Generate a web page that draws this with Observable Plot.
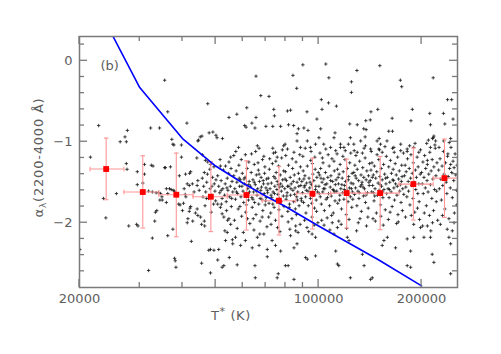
<!DOCTYPE html>
<html><head><meta charset="utf-8">
<script src="https://cdn.jsdelivr.net/npm/d3@7"></script>
<script src="https://cdn.jsdelivr.net/npm/@observablehq/plot@0.6"></script>
<style>html,body{margin:0;padding:0;background:#fff}svg{display:block}</style>
</head><body><div id="chart"></div>
<script>
// ---- data: each star as [log10 T*, alpha_lambda(2200-4000 A)] ----
const upperPts = [[4.550,-0.24],[4.559,-0.63],[4.509,-0.83],[4.535,-0.83],[4.615,-0.77],[4.676,-0.53],[4.659,-0.93],[4.680,-0.89],[4.691,-0.88],[4.700,-0.92],[4.738,-0.70],[4.761,-0.66],[4.790,-0.58],[4.817,-0.19],[4.831,-0.43],[4.855,-0.44],[4.817,-0.70],[4.784,-0.80],[4.788,-0.82],[4.805,-0.77],[4.814,-0.83],[4.846,-0.81],[4.866,-0.81],[4.869,-0.60],[4.871,-0.68],[4.909,-0.62],[4.918,-0.61],[4.925,-0.18],[4.936,-0.34],[4.954,-0.05],[4.912,-0.79],[4.927,-0.80],[4.941,-0.84],[4.957,-0.83],[5.021,-0.04],[5.030,-0.21],[5.112,-0.12],[5.096,-0.26],[5.096,-0.39],[5.179,-0.06],[5.239,-0.24],[5.243,-0.32],[5.335,-0.21],[5.377,-0.48],[5.389,-0.48],[5.008,-0.48],[5.029,-0.52],[5.052,-0.56],[5.010,-0.60],[4.966,-0.63],[4.995,-0.72],[5.153,-0.63],[5.173,-0.60],[5.151,-0.73],[5.138,-0.74],[5.113,-0.79],[5.132,-0.84],[5.139,-0.85],[5.215,-0.71],[5.274,-0.60],[5.270,-0.74],[5.325,-0.65],[5.365,-0.65],[5.327,-0.79],[5.369,-0.78],[5.393,-0.72],[5.048,-0.89],[5.205,-0.87],[5.216,-0.87],[5.337,-0.93],[5.352,-1.07],[5.335,-0.95],[5.333,-0.96],[5.378,-1.15],[5.386,-1.28],[5.396,-1.32],[5.136,-0.94],[5.177,-0.96],[5.181,-1.03],[5.091,-0.78],[5.093,-0.95],[5.087,-1.03],[4.969,-0.86],[4.889,-0.81],[4.937,-0.90],[4.821,-1.05],[4.826,-1.08],[4.874,-1.13],[4.879,-1.19],[4.898,-1.05],[4.902,-1.03],[4.937,-0.99],[4.947,-1.07],[4.967,-0.99],[4.976,-1.07],[4.991,-1.03],[5.001,-0.95],[5.006,-0.84],[5.015,-1.03],[5.035,-1.07],[5.045,-0.95],[5.050,-1.11],[5.064,-1.03],[5.074,-1.07],[5.103,-1.03],[5.113,-1.13],[5.123,-0.99],[5.137,-1.05],[5.152,-1.09],[5.171,-0.99],[5.176,-1.09],[5.186,-1.13],[5.200,-0.99],[5.220,-1.07],[5.240,-1.03],[5.259,-1.09],[5.278,-1.07],[5.293,-1.13],[5.318,-1.23],[5.342,-0.99],[5.327,-1.07]];

const leftPts = [[4.333,-1.19],[4.357,-0.80],[4.302,-2.33],[4.378,-1.94],[4.371,-1.70],[4.409,-1.64],[4.420,-1.00],[4.438,-1.00],[4.434,-0.94],[4.441,-0.86],[4.438,-1.27],[4.445,-2.04],[4.440,-1.34],[4.470,-1.37],[4.491,-1.28],[4.470,-1.53],[4.468,-2.02],[4.472,-2.04],[4.491,-1.40],[4.486,-1.51],[4.503,-2.59],[4.511,-1.29],[4.516,-1.30],[4.514,-2.19],[4.521,-1.98],[4.527,-1.85],[4.523,-1.87],[4.536,-1.72],[4.543,-1.72],[4.550,-1.32],[4.503,-1.61],[4.514,-1.62],[4.525,-1.63],[4.532,-1.63],[4.538,-1.64],[4.542,-1.68],[4.567,-1.31],[4.571,-0.97],[4.574,-1.03],[4.577,-1.04],[4.555,-1.58],[4.569,-1.59],[4.575,-1.60],[4.559,-2.16],[4.579,-2.44],[4.581,-2.47],[4.583,-2.55],[4.595,-1.78],[4.599,-1.04],[4.599,-1.19],[4.552,-1.32],[4.559,-1.64],[4.555,-1.75],[4.564,-1.58],[4.579,-1.61],[4.574,-2.08],[4.593,-1.42],[4.591,-1.77],[4.605,-1.76],[4.602,-1.85],[4.610,-1.65],[4.612,-1.68],[4.616,-2.00],[4.618,-1.95],[4.622,-1.86],[4.624,-1.82],[4.626,-1.80],[4.628,-2.23],[4.616,-1.52],[4.622,-1.54],[4.631,-1.52],[4.645,-1.54],[4.640,-1.88],[4.645,-1.83],[4.626,-1.37],[4.644,-1.20],[4.647,-0.99],[4.611,-1.40],[4.623,-1.39],[4.647,-1.48],[4.632,-1.98],[4.647,-1.91],[4.636,-1.62],[4.607,-1.58],[4.649,-0.98],[4.654,-0.94],[4.660,-1.16],[4.669,-1.23],[4.676,-1.25],[4.684,-1.28],[4.694,-1.31],[4.666,-1.38],[4.682,-1.34],[4.655,-1.93],[4.658,-2.02],[4.666,-1.98],[4.667,-2.04],[4.658,-2.50],[4.679,-2.34],[4.694,-2.34],[4.684,-2.62],[4.699,-1.73],[4.660,-1.45],[4.664,-1.55],[4.670,-1.62],[4.673,-1.50],[4.678,-1.70],[4.683,-1.58],[4.687,-1.66],[4.690,-1.44],[4.693,-1.77],[4.697,-1.61],[4.662,-1.68],[4.668,-1.79],[4.686,-1.87],[4.695,-1.52],[4.651,-1.60],[4.675,-1.40],[4.703,-0.95],[4.719,-0.96],[4.713,-1.30],[4.743,-1.19],[4.752,-1.17],[4.705,-2.46],[4.718,-2.55],[4.723,-2.53],[4.739,-2.43],[4.748,-2.21],[4.749,-2.26],[4.743,-2.02],[4.738,-1.95],[4.723,-1.93],[4.718,-1.89],[4.731,-1.85],[4.713,-1.81],[4.705,-1.77],[4.705,-1.42],[4.708,-1.55],[4.711,-1.63],[4.715,-1.48],[4.718,-1.70],[4.720,-1.58],[4.722,-1.35],[4.725,-1.66],[4.727,-1.52],[4.730,-1.74],[4.733,-1.45],[4.735,-1.60],[4.737,-1.39],[4.740,-1.68],[4.742,-1.55],[4.745,-1.80],[4.747,-1.49],[4.749,-1.62],[4.716,-1.77],[4.728,-1.30],[4.738,-1.25],[4.712,-1.22],[4.744,-1.33],[4.726,-2.10],[4.734,-1.97]];

const lowerPts = [[4.684,-2.33],[4.708,-2.33],[4.762,-2.52],[4.815,-2.68],[4.814,-2.53],[4.850,-2.42],[4.882,-2.63],[4.879,-2.68],[4.903,-2.53],[4.911,-2.53],[4.928,-2.70],[4.928,-2.31],[4.937,-2.26],[4.962,-2.43],[4.967,-2.45],[4.991,-2.41],[4.806,-2.31],[4.826,-2.28],[4.786,-2.22],[4.772,-2.28],[4.728,-2.22],[4.733,-2.12],[4.850,-2.33],[4.864,-2.22],[4.874,-2.28],[4.889,-2.35],[4.757,-2.18],[4.821,-2.18],[4.840,-2.14],[4.918,-2.16],[4.933,-2.10],[4.981,-2.14],[4.991,-2.18],[5.045,-2.14],[5.055,-2.06],[5.050,-2.35],[5.055,-2.51],[5.059,-2.53],[5.084,-2.18],[5.089,-2.22],[5.093,-2.68],[5.128,-2.39],[5.133,-2.53],[5.152,-2.70],[5.157,-2.68],[5.186,-2.28],[5.191,-2.22],[5.201,-2.18],[5.225,-2.31],[5.259,-2.53],[5.269,-2.55],[5.259,-2.20],[5.278,-2.18],[5.308,-2.18],[5.327,-2.18],[5.332,-2.39],[5.337,-2.49],[5.381,-2.18],[5.386,-2.26],[5.391,-2.10],[5.386,-2.63],[5.269,-2.35],[5.298,-2.06],[5.318,-2.04]];

const bandPts = [
[4.752,-1.42],[4.755,-1.58],[4.757,-1.71],[4.759,-1.36],[4.761,-1.50],[4.763,-1.64],[4.765,-1.83],[4.767,-1.29],[4.769,-1.55],[4.771,-1.47],[4.773,-1.68],[4.775,-1.92],[4.777,-1.39],[4.779,-1.61],[4.781,-1.75],[4.783,-1.52],[4.785,-1.44],[4.787,-1.87],[4.789,-1.66],[4.791,-1.33],[4.793,-1.58],[4.795,-1.72],[4.797,-1.49],[4.799,-2.01],[4.754,-1.97],[4.762,-2.07],[4.774,-1.22],[4.786,-1.16],[4.796,-1.25],[4.758,-1.12],[4.780,-2.12],[4.792,-1.95],[4.770,-1.80],[4.798,-1.62],[4.766,-1.07],
[4.801,-1.55],[4.803,-1.38],[4.805,-1.69],[4.806,-1.81],[4.808,-1.47],[4.810,-1.62],[4.812,-1.28],[4.813,-1.75],[4.815,-1.53],[4.817,-1.90],[4.818,-1.41],[4.820,-1.66],[4.822,-1.58],[4.824,-1.35],[4.825,-1.77],[4.827,-1.49],[4.829,-1.98],[4.831,-1.60],[4.832,-1.44],[4.834,-1.71],[4.836,-1.22],[4.837,-1.85],[4.839,-1.52],[4.841,-1.64],[4.843,-1.31],[4.844,-1.78],[4.846,-1.57],[4.848,-1.46],[4.849,-2.05],[4.804,-1.15],[4.816,-1.12],[4.828,-2.14],[4.840,-1.18],[4.809,-1.95],[4.835,-1.93],[4.823,-1.26],[4.847,-1.69],[4.811,-2.09],[4.842,-1.39],
[4.851,-1.63],[4.853,-1.45],[4.855,-1.76],[4.856,-1.34],[4.858,-1.58],[4.860,-1.88],[4.862,-1.51],[4.863,-1.69],[4.865,-1.27],[4.867,-1.62],[4.869,-1.43],[4.870,-1.81],[4.872,-1.55],[4.874,-1.97],[4.876,-1.38],[4.877,-1.72],[4.879,-1.49],[4.881,-1.65],[4.883,-1.30],[4.884,-1.84],[4.886,-1.56],[4.888,-1.41],[4.890,-1.74],[4.891,-1.61],[4.893,-1.92],[4.895,-1.47],[4.897,-1.67],[4.898,-1.36],[4.857,-1.21],[4.868,-1.14],[4.880,-2.06],[4.892,-1.20],[4.861,-2.02],[4.875,-1.24],[4.887,-2.11],[4.899,-1.80],[4.854,-1.93],[4.882,-1.53],[4.866,-1.08],[4.894,-1.10],
[4.901,-1.58],[4.903,-1.37],[4.905,-1.71],[4.906,-1.48],[4.908,-1.63],[4.910,-1.86],[4.912,-1.29],[4.913,-1.55],[4.915,-1.77],[4.917,-1.44],[4.918,-1.66],[4.920,-1.52],[4.922,-1.95],[4.924,-1.33],[4.925,-1.60],[4.927,-1.74],[4.929,-1.41],[4.931,-1.57],[4.932,-1.83],[4.934,-1.25],[4.936,-1.68],[4.937,-1.50],[4.939,-1.62],[4.941,-1.39],[4.943,-1.79],[4.944,-1.46],[4.946,-2.02],[4.948,-1.54],[4.949,-1.70],[4.904,-1.17],[4.916,-2.08],[4.928,-1.13],[4.940,-2.12],[4.911,-1.99],[4.923,-1.21],[4.935,-1.90],[4.947,-1.31],[4.909,-1.09],[4.933,-2.04],[4.945,-1.16],
[4.951,-1.49],[4.953,-1.63],[4.955,-1.36],[4.956,-1.75],[4.958,-1.56],[4.960,-1.42],[4.962,-1.68],[4.963,-1.88],[4.965,-1.51],[4.967,-1.30],[4.969,-1.61],[4.970,-1.79],[4.972,-1.45],[4.974,-1.57],[4.976,-1.70],[4.977,-1.23],[4.979,-1.53],[4.981,-1.93],[4.983,-1.40],[4.984,-1.65],[4.986,-1.48],[4.988,-1.82],[4.990,-1.34],[4.991,-1.59],[4.993,-1.72],[4.995,-1.44],[4.997,-1.62],[4.998,-2.00],[4.954,-1.18],[4.966,-2.06],[4.978,-1.12],[4.989,-1.19],[4.959,-1.97],[4.971,-2.11],[4.982,-1.27],[4.994,-1.86],[4.961,-1.08],[4.987,-2.03],[4.999,-1.38],
[5.001,-1.55],[5.003,-1.41],[5.005,-1.68],[5.006,-1.33],[5.008,-1.77],[5.010,-1.50],[5.012,-1.62],[5.013,-1.26],[5.015,-1.46],[5.017,-1.85],[5.018,-1.58],[5.020,-1.38],[5.022,-1.71],[5.024,-1.52],[5.025,-1.94],[5.027,-1.44],[5.029,-1.64],[5.031,-1.30],[5.032,-1.79],[5.034,-1.56],[5.036,-1.42],[5.037,-1.67],[5.039,-1.21],[5.041,-1.49],[5.043,-1.88],[5.044,-1.60],[5.046,-1.36],[5.048,-1.73],[5.049,-1.53],[5.004,-1.14],[5.016,-2.03],[5.028,-1.16],[5.040,-2.00],[5.009,-1.97],[5.021,-1.09],[5.033,-2.09],[5.045,-1.24],[5.011,-1.20],[5.038,-1.91],
[5.051,-1.47],[5.053,-1.61],[5.055,-1.34],[5.056,-1.76],[5.058,-1.52],[5.060,-1.40],[5.062,-1.66],[5.063,-1.28],[5.065,-1.58],[5.067,-1.83],[5.069,-1.45],[5.070,-1.63],[5.072,-1.37],[5.074,-1.71],[5.076,-1.54],[5.077,-1.22],[5.079,-1.49],[5.081,-1.90],[5.083,-1.60],[5.084,-1.33],[5.086,-1.74],[5.088,-1.43],[5.090,-1.57],[5.091,-1.26],[5.093,-1.68],[5.095,-1.51],[5.097,-1.81],[5.098,-1.39],[5.054,-1.15],[5.066,-2.02],[5.078,-1.11],[5.089,-1.96],[5.059,-1.98],[5.071,-1.18],[5.082,-2.07],[5.094,-1.14],[5.064,-1.07],[5.099,-1.62],
[5.101,-1.52],[5.103,-1.38],[5.105,-1.65],[5.106,-1.29],[5.108,-1.57],[5.110,-1.45],[5.112,-1.79],[5.113,-1.34],[5.115,-1.61],[5.117,-1.48],[5.118,-1.70],[5.120,-1.24],[5.122,-1.55],[5.124,-1.41],[5.125,-1.86],[5.127,-1.50],[5.129,-1.32],[5.131,-1.67],[5.132,-1.44],[5.134,-1.58],[5.136,-1.20],[5.137,-1.75],[5.139,-1.47],[5.141,-1.36],[5.143,-1.63],[5.144,-1.93],[5.146,-1.42],[5.148,-1.54],[5.149,-1.27],[5.104,-1.11],[5.116,-2.00],[5.128,-1.14],[5.140,-2.04],[5.109,-1.17],[5.121,-1.95],[5.133,-1.08],[5.145,-1.82],[5.111,-2.10],
[5.151,-1.48],[5.153,-1.35],[5.155,-1.62],[5.156,-1.26],[5.158,-1.54],[5.160,-1.41],[5.162,-1.73],[5.163,-1.30],[5.165,-1.58],[5.167,-1.45],[5.169,-1.88],[5.170,-1.37],[5.172,-1.66],[5.174,-1.51],[5.176,-1.22],[5.177,-1.60],[5.179,-1.43],[5.181,-1.78],[5.183,-1.33],[5.184,-1.55],[5.186,-1.47],[5.188,-1.69],[5.190,-1.28],[5.191,-1.59],[5.193,-1.40],[5.195,-1.84],[5.197,-1.52],[5.198,-1.18],[5.154,-1.12],[5.166,-1.98],[5.178,-1.10],[5.189,-2.03],[5.159,-1.95],[5.171,-1.16],[5.182,-1.92],[5.194,-1.06],[5.199,-1.64],
[5.201,-1.44],[5.203,-1.58],[5.205,-1.31],[5.206,-1.69],[5.208,-1.50],[5.210,-1.23],[5.212,-1.62],[5.213,-1.39],[5.215,-1.80],[5.217,-1.47],[5.218,-1.34],[5.220,-1.57],[5.222,-1.72],[5.224,-1.27],[5.225,-1.52],[5.227,-1.41],[5.229,-1.66],[5.231,-1.19],[5.232,-1.90],[5.234,-1.46],[5.236,-1.36],[5.237,-1.61],[5.239,-1.53],[5.241,-1.75],[5.243,-1.29],[5.244,-1.43],[5.246,-1.58],[5.248,-1.14],[5.204,-1.96],[5.216,-1.08],[5.228,-2.01],[5.240,-1.11],[5.209,-1.87],[5.221,-1.13],[5.233,-1.99],[5.245,-1.85],[5.249,-1.65],
[5.251,-1.42],[5.253,-1.29],[5.255,-1.56],[5.256,-1.37],[5.258,-1.68],[5.260,-1.21],[5.262,-1.49],[5.263,-1.61],[5.265,-1.33],[5.267,-1.78],[5.269,-1.45],[5.270,-1.16],[5.272,-1.54],[5.274,-1.39],[5.276,-1.70],[5.277,-1.26],[5.279,-1.50],[5.281,-1.87],[5.283,-1.35],[5.284,-1.59],[5.286,-1.44],[5.288,-1.19],[5.290,-1.64],[5.291,-1.31],[5.293,-1.52],[5.295,-1.96],[5.297,-1.40],[5.298,-1.10],[5.254,-1.93],[5.266,-1.05],[5.278,-2.02],[5.289,-1.82],[5.259,-1.12],[5.271,-1.91],[5.282,-1.02],[5.294,-1.74],
[5.301,-1.38],[5.303,-1.52],[5.305,-1.25],[5.306,-1.64],[5.308,-1.44],[5.310,-1.17],[5.312,-1.57],[5.313,-1.33],[5.315,-1.79],[5.317,-1.48],[5.318,-1.28],[5.320,-1.62],[5.322,-1.40],[5.324,-1.91],[5.325,-1.13],[5.327,-1.53],[5.329,-1.36],[5.331,-1.70],[5.332,-1.22],[5.334,-1.46],[5.336,-1.85],[5.337,-1.31],[5.339,-1.59],[5.341,-1.08],[5.343,-1.42],[5.344,-1.74],[5.346,-1.26],[5.348,-1.97],[5.304,-2.04],[5.316,-1.02],[5.328,-2.10],[5.340,-1.04],[5.309,-1.88],[5.321,-0.98],[5.333,-2.00],[5.345,-1.61],
[5.351,-1.35],[5.353,-1.58],[5.355,-1.21],[5.357,-1.46],[5.359,-1.72],[5.361,-1.30],[5.363,-1.54],[5.365,-1.12],[5.367,-1.40],[5.369,-1.83],[5.371,-1.26],[5.373,-1.50],[5.375,-1.64],[5.377,-1.18],[5.379,-1.43],[5.381,-1.95],[5.383,-1.33],[5.385,-1.57],[5.387,-1.07],[5.389,-1.38],[5.391,-1.69],[5.393,-1.24],[5.395,-1.48],[5.397,-1.88],[5.399,-1.15],[5.401,-1.41],[5.403,-1.60],[5.405,-1.29],[5.356,-2.02],[5.366,-0.99],[5.376,-2.08],[5.386,-0.96],[5.396,-2.00],[5.362,-1.91],[5.382,-1.01],[5.404,-1.78]];

// extra stars in the crowded core of the distribution
const corePts = [[4.782,-1.46],[4.796,-1.53],[4.808,-1.71],[4.789,-1.78],[4.819,-1.61],[4.826,-1.40],[4.833,-1.56],[4.845,-1.73],[4.838,-1.48],[4.852,-1.52],[4.861,-1.66],[4.873,-1.45],[4.878,-1.59],[4.866,-1.77],[4.885,-1.70],[4.894,-1.55],[4.902,-1.46],[4.907,-1.67],[4.919,-1.58],[4.926,-1.49],[4.914,-1.81],[4.930,-1.65],[4.942,-1.55],[4.950,-1.73],[4.957,-1.46],[4.964,-1.60],[4.975,-1.50],[4.980,-1.76],[4.992,-1.55],[5.002,-1.64],[5.007,-1.45],[5.019,-1.53],[5.026,-1.69],[5.035,-1.48],[5.042,-1.59],[5.057,-1.44],[5.061,-1.72],[5.068,-1.53],[5.080,-1.64],[5.087,-1.47],[5.096,-1.58],[5.107,-1.42],[5.119,-1.63],[5.126,-1.53],[5.138,-1.66],[5.147,-1.50],[5.157,-1.44],[5.164,-1.67],[5.180,-1.53],[5.187,-1.62],[5.196,-1.45],[5.207,-1.59],[5.219,-1.48],[5.230,-1.55],[5.242,-1.49],[4.760,-1.62],[4.768,-1.45],[4.776,-1.55],[4.794,-1.64],[4.812,-1.50],[4.829,-1.70],[4.850,-1.60],[4.871,-1.64],[4.889,-1.52],[4.909,-1.55],[4.938,-1.72],[4.960,-1.54],[4.985,-1.66],[5.014,-1.58],[5.047,-1.62],[5.075,-1.59],[5.100,-1.71],[5.130,-1.56],[5.160,-1.63],[4.700,-1.47],[4.715,-1.60],[4.732,-1.57],[4.746,-1.70],[4.688,-1.55],[4.672,-1.70]];

// binned means (log T*), with vertical and horizontal error bars
const binLogT  = [4.379, 4.486, 4.584, 4.685, 4.789, 4.884, 4.982, 5.082, 5.180, 5.277, 5.368];
const binAlpha = [-1.337,-1.621,-1.654,-1.679,-1.658,-1.728,-1.642,-1.634,-1.634,-1.523,-1.449];
const binHi    = [-0.955,-1.173,-1.140,-1.247,-1.235,-1.305,-1.202,-1.214,-1.181,-1.078,-0.967];
const binLo    = [-1.716,-2.066,-2.173,-2.110,-2.090,-2.152,-2.078,-2.066,-2.086,-1.967,-1.934];
const binXlo   = [4.332, 4.431, 4.533, 4.633, 4.733, 4.835, 4.935, 5.035, 5.137, 5.235, 5.335];
const binXhi   = [4.431, 4.533, 4.633, 4.733, 4.835, 4.933, 5.035, 5.137, 5.235, 5.335, 5.435];

// model curve
const modelT     = [25000, 30000, 40000, 50000, 60000, 70000, 80000, 100000, 150000, 200000];
const modelAlpha = [0.31, -0.33, -0.96, -1.30, -1.51, -1.67, -1.80, -2.04, -2.46, -2.78];

// ticks
const xMajor = [20000, 50000, 100000, 200000];
const xMinor = [30000, 40000, 60000, 70000, 80000, 90000];
const yMajor = [0, -1, -2];
const yMinor = [-2.6, -2.4, -2.2, -1.8, -1.6, -1.4, -1.2, -0.8, -0.6, -0.4, -0.2, 0.2];

// ---- build ----
const stars = [...upperPts, ...leftPts, ...lowerPts, ...bandPts, ...corePts].map(([lt, a]) => ({T: 10 ** lt, a}));
const bins = binLogT.map((lt, i) => ({T: 10 ** lt, a: binAlpha[i], hi: binHi[i], lo: binLo[i], xlo: 10 ** binXlo[i], xhi: 10 ** binXhi[i]}));
const model = modelT.map((T, i) => ({T, a: modelAlpha[i]}));

const plusSym = {draw(ctx, size) { const r = Math.sqrt(size / Math.PI); ctx.moveTo(-r, 0); ctx.lineTo(r, 0); ctx.moveTo(0, -r); ctx.lineTo(0, r); }};
const hCap = {draw(ctx, size) { const r = Math.sqrt(size / Math.PI); ctx.moveTo(-r, 0); ctx.lineTo(r, 0); }};
const vCap = {draw(ctx, size) { const r = Math.sqrt(size / Math.PI); ctx.moveTo(0, -r); ctx.lineTo(0, r); }};

const TXT = "#5e5e5e", AX = "#7a7a7a", ERR = "#ff9696";
const FONT = "DejaVu Sans, Liberation Sans, sans-serif";

const chart = Plot.plot({
  width: 501, height: 354,
  marginLeft: 79, marginRight: 44, marginTop: 36, marginBottom: 67,
  style: {fontFamily: FONT, background: "#fff"},
  x: {type: "log", domain: [20000, 254700]},
  y: {domain: [-2.8, 0.3]},
  marks: [
    Plot.dot(stars, {x: "T", y: "a", symbol: plusSym, r: 1.7, fill: "none", stroke: "#1a1a1a", strokeWidth: 0.9, strokeOpacity: 0.9, clip: true}),
    Plot.ruleX(bins, {x: "T", y1: "lo", y2: "hi", stroke: ERR, strokeWidth: 1.1, clip: true}),
    Plot.ruleY(bins, {y: "a", x1: "xlo", x2: "xhi", stroke: ERR, strokeWidth: 1.1, clip: true}),
    Plot.dot(bins, {x: "T", y: "hi", symbol: hCap, r: 2.3, fill: "none", stroke: ERR, strokeWidth: 1.1, clip: true}),
    Plot.dot(bins, {x: "T", y: "lo", symbol: hCap, r: 2.3, fill: "none", stroke: ERR, strokeWidth: 1.1, clip: true}),
    Plot.dot(bins, {x: "xlo", y: "a", symbol: vCap, r: 2.3, fill: "none", stroke: ERR, strokeWidth: 1.1, clip: true}),
    Plot.dot(bins, {x: "xhi", y: "a", symbol: vCap, r: 2.3, fill: "none", stroke: ERR, strokeWidth: 1.1, clip: true}),
    Plot.line(model, {x: "T", y: "a", stroke: "#0000ff", strokeWidth: 1.6, clip: true}),
    Plot.dot(bins, {x: "T", y: "a", symbol: "square", r: 3.3, fill: "#ff0000", stroke: "none"}),
    Plot.frame({stroke: AX, strokeWidth: 1.5}),
    Plot.axisX(xMajor, {anchor: "bottom", tickSize: 0, tickPadding: 6, tickFormat: d => String(d), fontSize: 13, color: TXT, label: null}),
    Plot.axisY(yMajor, {anchor: "left", tickSize: 0, tickPadding: 7, tickFormat: d => d === 0 ? "0" : "\u2212" + Math.abs(d), fontSize: 13, color: TXT, label: null}),
    Plot.text(["(b)"], {text: d => d, frameAnchor: "top-left", dx: 21, dy: 24, textAnchor: "start", fontSize: 13, fill: TXT})
  ]
});

// inward ticks on all four sides, placed with Plot's own scales
const sx = chart.scale("x"), sy = chart.scale("y");
const L = 79, R = 457, T0 = 36, B = 287;
const g = d3.select(chart).append("g").attr("stroke", AX).attr("stroke-width", 1.3);
function xt(v, len) {
  const px = sx.apply(v);
  g.append("line").attr("x1", px).attr("x2", px).attr("y1", B).attr("y2", B - len);
  g.append("line").attr("x1", px).attr("x2", px).attr("y1", T0).attr("y2", T0 + len);
}
function yt(v, len) {
  const py = sy.apply(v);
  g.append("line").attr("y1", py).attr("y2", py).attr("x1", L).attr("x2", L + len);
  g.append("line").attr("y1", py).attr("y2", py).attr("x1", R).attr("x2", R - len);
}
xMajor.forEach(v => xt(v, 8)); xMinor.forEach(v => xt(v, 5));
yMajor.forEach(v => yt(v, 8)); yMinor.forEach(v => yt(v, 5));

// axis titles
const svg = d3.select(chart);
const xl = svg.append("text").attr("x", 231).attr("y", 320).attr("fill", TXT)
  .attr("font-family", FONT).attr("font-size", 13).attr("letter-spacing", "0.6px");
xl.append("tspan").text("T");
xl.append("tspan").attr("dy", -5).attr("font-size", 11).text("*");
xl.append("tspan").attr("dy", 5).text(" (K)");

const yl = svg.append("text").attr("transform", "translate(43,157.5) rotate(-90)")
  .attr("text-anchor", "middle").attr("fill", TXT)
  .attr("font-family", FONT).attr("font-size", 13).attr("letter-spacing", "0.8px");
yl.append("tspan").text("\u03b1");
yl.append("tspan").attr("dy", 3).attr("font-size", 9).text("\u03bb");
yl.append("tspan").attr("dy", -3).text("(2200-4000 \u00c5)");

document.getElementById("chart").appendChild(chart);
</script>
</body></html>
